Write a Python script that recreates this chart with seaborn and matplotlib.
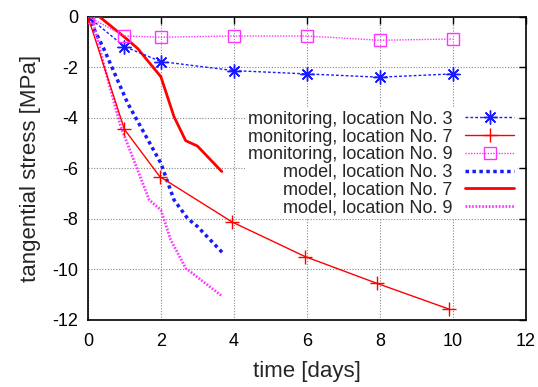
import matplotlib
matplotlib.use("Agg")
import matplotlib.pyplot as plt
import seaborn as sns
import numpy as np

# monitoring data
mon_days = [0, 1.0, 2.0, 4.0, 6.0, 8.0, 10.0]
mon_loc3 = [0, -1.19, -1.78, -2.14, -2.27, -2.40, -2.27]
mon_days7 = [0, 1.0, 1.97, 3.96, 5.95, 7.92, 9.9]
mon_loc7 = [0, -4.46, -6.33, -8.13, -9.49, -10.55, -11.57]
mon_loc9 = [0, -0.77, -0.82, -0.77, -0.77, -0.94, -0.89]

# model curves
mod3_days = [0, 0.45, 1.09, 2.0, 2.36, 2.73, 3.0, 3.69]
mod3_vals = [0, -1.32, -3.43, -5.8, -7.25, -7.98, -8.3, -9.34]
mod7_days = [0, 0.31, 1.04, 1.36, 2.0, 2.36, 2.68, 3.0, 3.67]
mod7_vals = [0, 0, -0.86, -1.26, -2.38, -3.96, -4.91, -5.12, -6.13]
mod9_days = [0, 0.13, 0.45, 0.9, 1.68, 2.0, 2.27, 2.68, 3.69]
mod9_vals = [0, -0.14, -1.98, -4.35, -7.25, -7.65, -8.83, -9.95, -11.07]

labels = ["monitoring, location No. 3", "monitoring, location No. 7",
          "monitoring, location No. 9", "model, location No. 3",
          "model, location No. 7", "model, location No. 9"]

sns.set_style("white")
plt.rcParams['font.family'] = ['Liberation Sans', 'DejaVu Sans']

BLUE = '#1a1aff'
RED = '#ff0000'
MAG = '#ff33ff'

fig = plt.figure(figsize=(5.38, 3.87), dpi=100)
ax = fig.add_axes([87.9/538, 1-320/387, (525.7-87.9)/538, (320-16.5)/387])

sns.lineplot(x=mon_days, y=mon_loc3, ax=ax, color=BLUE, lw=1.0, linestyle=(0, (2, 1.5)),
             marker=(8, 2, 0), markersize=10, markeredgewidth=1.0, markeredgecolor=BLUE,
             label=labels[0], zorder=5)
sns.lineplot(x=mon_days7, y=mon_loc7, ax=ax, color=RED, lw=1.0, linestyle='-',
             marker='+', markersize=10, markeredgewidth=1.0, markeredgecolor=RED,
             label=labels[1], zorder=5)
sns.lineplot(x=mon_days, y=mon_loc9, ax=ax, color=MAG, lw=1.0, linestyle=(0, (1, 1)),
             marker='s', markersize=9, markerfacecolor='none', markeredgewidth=1.0,
             markeredgecolor=MAG, label=labels[2], zorder=5)
sns.lineplot(x=mod3_days, y=mod3_vals, ax=ax, color=BLUE, lw=2.5, linestyle=(0, (1, 1)),
             label=labels[3], zorder=4)
sns.lineplot(x=mod7_days, y=mod7_vals, ax=ax, color=RED, lw=2.0, linestyle='-',
             label=labels[4], zorder=4)
sns.lineplot(x=mod9_days, y=mod9_vals, ax=ax, color=MAG, lw=2.0, linestyle=(0, (0.6, 0.6)),
             label=labels[5], zorder=4)

ax.set_xlim(0, 12)
ax.set_ylim(-12, 0)
ax.set_xticks(range(0, 13, 2))
ax.set_yticks(range(-12, 1, 2))
ax.set_xticklabels([str(v) for v in range(0, 13, 2)])
ax.set_yticklabels([str(v) for v in range(-12, 1, 2)])
ax.grid(True, color='#888888', linestyle=(0, (1, 1.5)), linewidth=0.8)
ax.set_axisbelow(True)
ax.tick_params(direction='in', length=5, width=1, top=True, right=True,
               labelsize=13, colors='black')
ax.tick_params(axis='y', pad=7)
ax.tick_params(axis='x', pad=9)
for s in ax.spines.values():
    s.set_color('black')
    s.set_linewidth(1.2)
ax.set_xlabel("time [days]", fontsize=16, labelpad=8)
ax.set_ylabel("tangential stress [MPa]", fontsize=16, labelpad=8)

leg = ax.legend(loc='upper right', bbox_to_anchor=(1.0, 0.728), markerfirst=False,
                fontsize=13, frameon=True, framealpha=1, edgecolor='none',
                facecolor='white', handlelength=2.7, handletextpad=0.72,
                labelspacing=0.04, borderpad=0.15, fancybox=False)
leg.set_zorder(3)

fig.savefig("out.png", dpi=100)
